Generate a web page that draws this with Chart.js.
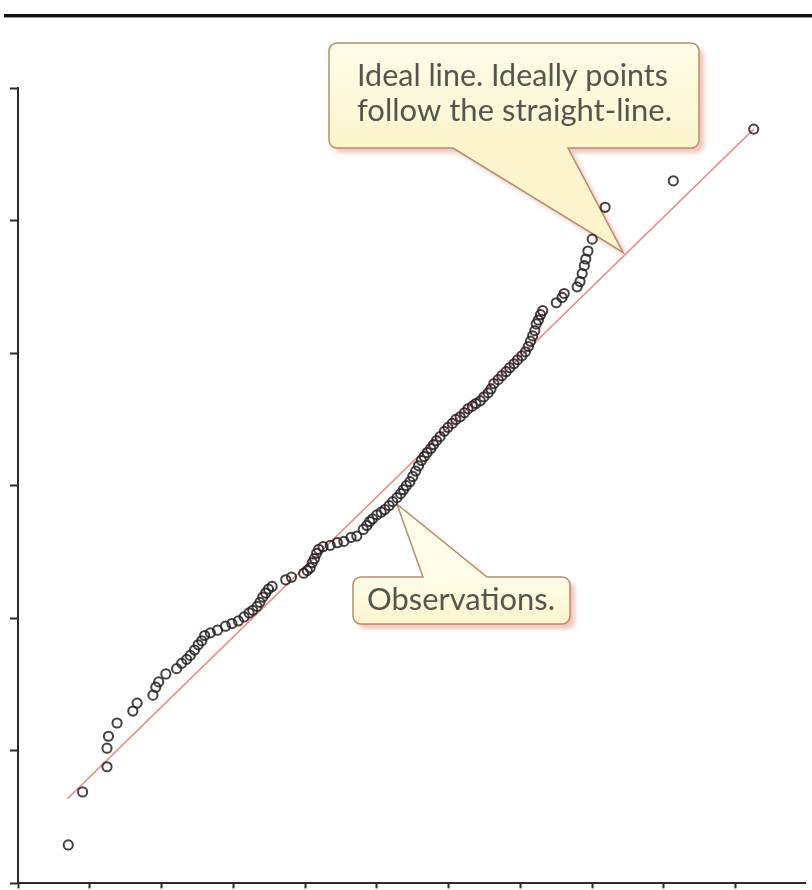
<!DOCTYPE html>
<html>
<head>
<meta charset="utf-8">
<title>Normal Q-Q plot</title>
<script src="https://cdn.jsdelivr.net/npm/chart.js@4"></script>
<style>
  html, body { margin: 0; padding: 0; background: #fff; overflow: hidden; }
  #wrap { position: relative; width: 812px; height: 890px; }
  #rule { position: absolute; left: 4px; right: 0; top: 14px; height: 3px; background: #111; border-bottom: 1px solid #999; }
  canvas { position: absolute; left: 0; top: 0; }
</style>
</head>
<body>
<div id="wrap">
  <canvas id="qq" width="812" height="890"></canvas>
  <div id="rule"></div>
</div>
<script>
// observations: theoretical quantile (x) vs sample quantile (y)
const obsX = [0.70, 0.90, 1.24, 1.24, 1.26, 1.38, 1.60, 1.66, 1.88, 1.92, 1.96, 2.06, 2.21, 2.28, 2.35, 2.40,
  2.46, 2.51, 2.56, 2.60, 2.68, 2.78, 2.89, 2.98, 3.07, 3.15, 3.22, 3.27, 3.33, 3.37, 3.41, 3.45, 3.49, 3.54,
  3.73, 3.81, 3.98, 4.03, 4.07, 4.10, 4.13, 4.16, 4.19, 4.25, 4.35, 4.45, 4.54, 4.64, 4.72, 4.81, 4.86, 4.90,
  4.94, 5.00, 5.06, 5.11, 5.17, 5.22, 5.28, 5.33, 5.37, 5.41, 5.46, 5.50, 5.54, 5.58, 5.62, 5.66, 5.70, 5.75,
  5.79, 5.83, 5.88, 5.94, 5.99, 6.05, 6.10, 6.16, 6.22, 6.27, 6.33, 6.38, 6.44, 6.49, 6.55, 6.59, 6.63, 6.69,
  6.74, 6.80, 6.85, 6.91, 6.96, 7.02, 7.07, 7.11, 7.14, 7.17, 7.20, 7.22, 7.25, 7.28, 7.31, 7.50, 7.58, 7.61,
  7.79, 7.83, 7.86, 7.89, 7.91, 7.94, 8.00, 8.18, 9.13, 10.25];
const obsY = [0.29, 0.69, 0.88, 1.02, 1.11, 1.21, 1.30, 1.36, 1.42, 1.48, 1.52, 1.58, 1.62, 1.66, 1.69, 1.72,
  1.76, 1.80, 1.83, 1.87, 1.89, 1.91, 1.94, 1.96, 1.98, 2.01, 2.04, 2.06, 2.09, 2.12, 2.16, 2.19, 2.22, 2.24,
  2.29, 2.31, 2.34, 2.36, 2.38, 2.42, 2.45, 2.49, 2.52, 2.54, 2.55, 2.57, 2.58, 2.61, 2.62, 2.67, 2.70, 2.73,
  2.75, 2.78, 2.80, 2.82, 2.85, 2.88, 2.91, 2.94, 2.97, 3.00, 3.03, 3.07, 3.11, 3.15, 3.19, 3.22, 3.25, 3.28,
  3.31, 3.34, 3.37, 3.41, 3.44, 3.47, 3.50, 3.52, 3.55, 3.58, 3.60, 3.62, 3.64, 3.67, 3.70, 3.73, 3.77, 3.80,
  3.83, 3.86, 3.89, 3.92, 3.95, 3.98, 4.01, 4.05, 4.09, 4.13, 4.17, 4.22, 4.25, 4.29, 4.32, 4.38, 4.42, 4.45,
  4.50, 4.54, 4.60, 4.66, 4.71, 4.77, 4.86, 5.10, 5.30, 5.69];

// ideal (reference) line end points
const idealX = [0.69, 10.25];
const idealY = [0.64, 5.69];

// axis ranges, unlabeled ticks every 1 unit
const xRange = [0, 10.97];
const yRange = [0, 6];

// callout anchors in data units
const idealTip = [8.43, 4.76];
const obsTip = [5.28, 2.86];

const callouts = [
  { lines: ['Ideal line. Ideally points', 'follow the straight-line.'], textW: [311, 315], textX: 357, textY: [86, 121],
    box: [329, 43, 370, 105], side: 'bottom', base: [453, 568], anchor: idealTip },
  { lines: ['Observations.'], textW: [188], textX: 367, textY: [610],
    box: [353, 577, 217, 47], side: 'top', base: [423, 487], anchor: obsTip }
];

function calloutPath(ctx, c, tip) {
  const [x, y, w, h] = c.box, r = 8;
  ctx.beginPath();
  ctx.moveTo(x + r, y);
  if (c.side === 'top') { ctx.lineTo(c.base[0], y); ctx.lineTo(tip.x, tip.y); ctx.lineTo(c.base[1], y); }
  ctx.lineTo(x + w - r, y);
  ctx.arcTo(x + w, y, x + w, y + r, r);
  ctx.lineTo(x + w, y + h - r);
  ctx.arcTo(x + w, y + h, x + w - r, y + h, r);
  if (c.side === 'bottom') { ctx.lineTo(c.base[1], y + h); ctx.lineTo(tip.x, tip.y); ctx.lineTo(c.base[0], y + h); }
  ctx.lineTo(x + r, y + h);
  ctx.arcTo(x, y + h, x, y + h - r, r);
  ctx.lineTo(x, y + r);
  ctx.arcTo(x, y, x + r, y, r);
  ctx.closePath();
}

const calloutPlugin = {
  id: 'callouts',
  beforeDatasetsDraw(chart) {
    const { ctx, scales } = chart;
    callouts.forEach(c => {
      const tip = { x: scales.x.getPixelForValue(c.anchor[0]), y: scales.y.getPixelForValue(c.anchor[1]) };
      const [bx, by, bw, bh] = c.box;
      ctx.save();
      const g = ctx.createLinearGradient(0, by, 0, by + bh);
      g.addColorStop(0, '#fefde9');
      g.addColorStop(1, '#fbf4cc');
      calloutPath(ctx, c, tip);
      ctx.shadowColor = 'rgba(232, 150, 130, 0.55)';
      ctx.shadowOffsetX = 5;
      ctx.shadowOffsetY = 5;
      ctx.shadowBlur = 4;
      ctx.fillStyle = g;
      ctx.fill();
      ctx.shadowColor = 'transparent';
      ctx.lineWidth = 1.5;
      ctx.strokeStyle = '#b38d6c';
      ctx.stroke();

      ctx.fillStyle = '#55554f';
      ctx.font = '30px Lato';
      ctx.textBaseline = 'alphabetic';
      c.lines.forEach((line, i) => {
        const m = ctx.measureText(line).width;
        ctx.save();
        ctx.translate(c.textX, c.textY[i]);
        ctx.scale(c.textW[i] / m, 1);
        ctx.fillText(line, 0, 0);
        ctx.restore();
      });
      ctx.restore();
    });
  }
};

const axisStyle = (range, len) => ({
  type: 'linear',
  min: range[0],
  max: range[1],
  ticks: { display: false, stepSize: 1, includeBounds: false },
  grid: { drawOnChartArea: false, drawTicks: true, tickLength: len, tickWidth: 2, color: '#2b2b2b' },
  border: { display: true, color: '#2b2b2b', width: 2 }
});

new Chart(document.getElementById('qq'), {
  type: 'scatter',
  data: {
    datasets: [
      {
        label: 'Observations',
        data: obsX.map((x, i) => ({ x, y: obsY[i] })),
        pointRadius: 4.6,
        pointBorderWidth: 2,
        pointBorderColor: 'rgba(38, 30, 30, 0.85)',
        pointBackgroundColor: 'rgba(0,0,0,0)',
        order: 1
      },
      {
        label: 'Ideal line',
        data: idealX.map((x, i) => ({ x, y: idealY[i] })),
        showLine: true,
        borderColor: '#e8908c',
        borderWidth: 1.6,
        pointRadius: 0,
        order: 2
      }
    ]
  },
  options: {
    responsive: false,
    animation: false,
    layout: { padding: { left: 10, top: 88, right: 0, bottom: 0 } },
    plugins: { legend: { display: false }, tooltip: { enabled: false } },
    scales: {
      x: axisStyle(xRange, 5),
      y: axisStyle(yRange, 8)
    }
  },
  plugins: [calloutPlugin]
});
</script>
</body>
</html>
